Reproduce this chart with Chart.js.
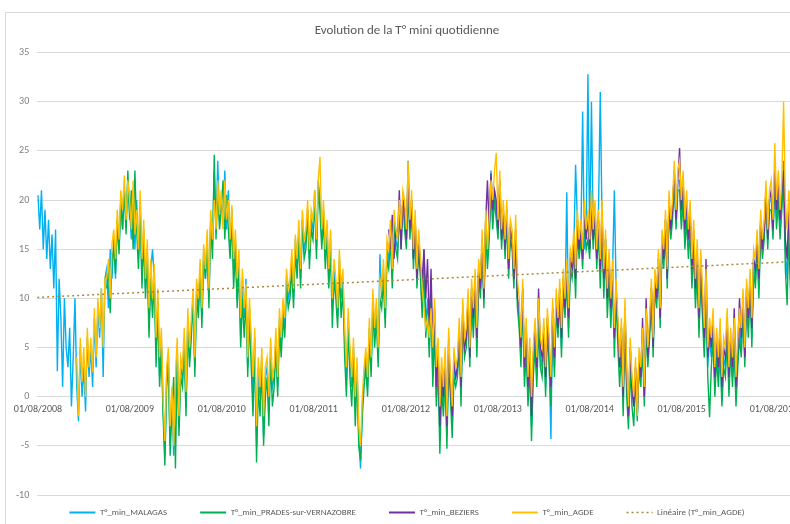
<!DOCTYPE html>
<html><head><meta charset="utf-8">
<script src="https://cdn.jsdelivr.net/npm/chart.js@4.4.1/dist/chart.umd.min.js"></script>
<style>
html,body{margin:0;padding:0;background:#fff;overflow:hidden;width:790px;height:524px;}
#frame{position:absolute;left:5px;top:12px;width:830px;height:540px;border:1px solid #d9d9d9;box-sizing:border-box;}
#c{position:absolute;left:0;top:0;}
</style></head><body>
<div id="frame"><canvas id="c" width="810" height="534"></canvas></div>
<script>
const TITLE = 'Evolution de la T° mini quotidienne';
const SERIES_NAMES = ['T°_min_MALAGAS','T°_min_PRADES-sur-VERNAZOBRE','T°_min_BEZIERS','T°_min_AGDE','Linéaire (T°_min_AGDE)'];
const TICK_LABELS = ['01/08/2008','01/08/2009','01/08/2010','01/08/2011','01/08/2012','01/08/2013','01/08/2014','01/08/2015','01/08/2016'];
const STEP_DAYS = 7;            // one reading per week, day 0 = 01/08/2008
const MALAGAS_START = 0, PRADES_START = 39, BEZIERS_START = 199, AGDE_START = 22; // week index of first reading

const malagas = [
20.5,17,21,15,19, 14,18,13,16.5, 11,17,2.6,12, 8,1,10,5,3, 7,-1,4,10, 1,-2.5,5,0, 3,-1.5,6,2, 5,1,8,3,9, 6,11,2,12, 13,9,15,12, 16,12,18,15,20, 17,21,18,22,
19,16,21,15,20, 14,20,12,17, 11,15,7,13, 15,12,5,10,2, 6,-1,-6,2, 4,-5,0,-6, 1,5,-3,3, 2,6,-1,8,4, 7,10,3,11, 9,13,8,15, 12,16,10,18,15, 23,17,24,18,
20,18,23,17,21, 15,19,13,16, 10,14,6,12, 8,12,3,9,5, 0,6,-5,3, 0,4,-4,2, 3,-1,5,1, 2,6,1,8,5, 9,7,12,10, 11,14,10,16, 13,17,12,18,15, 16,19,14,18,
17,21,15,22,20, 16,19,14,17, 12,16,9,13, 11,8,14,10,12, 6,2,8,4, 1,5,-1,3, -4,-7.3,-1,2, 4,1,7,3,10, 6,9,4,14.5, 10,13,8,15, 14,17,12,18,16, 15,19,16,20,
18,16,24,17,20, 14,18,12,16, 13,9,15,7, 10,5,11,2,8, 0,4,-4,2, -1,3,-4,5, 1,-3,3,2, 3,7,0,9,5, 6,10,4,11, 7,12,5,13, 11,16,10,18,14, 17,23,18,21,
19,17,22,16,19, 15,19,13,17, 16,12,17,10, 8,4,11,2,6, 0,4,-3,3, 6,2,8,4, 3,7,1,8, 4,-4.3,9,3,10, 7,11,5,12, 9,20.8,7,14, 14,15,23.6,18,15, 16,29,15,17,
32.8,16,30,17,19, 15,19,31,18, 12,16,10,14, 9,13,21,11,7, 3,7,0,9, 2,-2,5,1, -1,3,-2,4, 2,6,0,8,4, 7,11,5,12, 10,14,8,16, 14,18,12,20,17, 19,23,18,22,
22,18,21,16,19, 15,18,12,16, 10,14,7,13, 9,5,11,3,6, 4,7,1,5, 2,6,-0.4,4, 3,7,1,6, 2,6,0,4,7, 5,10,4,11, 7,12,6,14, 12,16,11,18,15, 17,21,16,20,
20,17,23,18,21, 17,20,24,15, 12,18,10,15, 9,12,7,10,8
];

const prades = [
11,13,8.5,14, 15,12.5,18,14.5,20, 17,21,16.5,23,
18,21,15,23,17, 13,19,11,16, 10,14,6,12, 8,12,3,9,1, 5,-2,-7,1, 3,-6,-1,2, -7.3,4,-4,2, 1,5,-2,7,3, 6,10,2,10, 8,13,7,14, 12,15,9,18,14, 24.6,16,21,17,
19,22,16,20.5,17, 14,18,11,15, 9,13,5,10, 6,10,2,8,3, -2,5,-6.7,1, -2,3,-5,0, 2,-3,4,-1, 1,5,0,7,4, 8,6,11,9, 10,13,9,15, 12,16,11,18,14, 15,19,13,17,
16,20,14,21,19, 15,18,13,16, 11,15,7,12, 10,7,13,8,11, 4,0,7,2, -1,4,-3,2, -5,-6.5,-2,1, 3,0,6,2,9, 5,8,3,10, 9,12,7,14, 13,16,11,18,15, 14,19,15,20,
17,15,21,16,19, 13,17,11,15, 12,8,14,6, 9,4,10,1,7, -1,3,-5.8,1, -2,2,-5.3,4, 0,-4.2,2,1, 2,6,-1,8,4, 5,9,3,10, 6,11,4,12, 10,15,9,17,13, 16,21,17,20,
18,16,21,15,18, 14,18,12,16, 15,11,16,9, 7,3,10,1,5, -1,3,-4.5,2, 5,1,7,3, 2,6,0,7, 3,-1,8,2,9, 6,10,4,11, 8,12,6,13, 12,15,10,17,14, 16,13,18,15,
16,14,19,15,18, 13,17,11,17, 10,15,8,12, 7,12,4,10,5, 1,5,-2,7, 0,-3.3,3,-1, -3,2,-2.5,3, 1,5,-1,7,3, 6,10,4,11, 9,13,7,15, 13,17,11,19,16, 18,22,17,21,
21,17,20,15,18, 14,17,11,15, 9,13,6,12, 8,4,10,2,-2.1, 3,6,0,4, 1,5,-1,3, 2,6,0,5, 1,5,-1,3,6, 4,9,3,10, 6,11,5,13, 11,15,10,17,14, 16,20,15,19,
19,16,22,17,20, 16,19,22,13, 9.3,17,11,14, 8,12,6,10,7
];

const beziers = [
17,15,18.5,14,17, 16,21,15,20,
19,16,22.5,17,20, 14,18,12,16, 13,12,15,10, 14,7,13,5,9, 1,5,-3,3, 0,4,-3,6, 1,-2,4,2, 3,7,1,9,5, 6,10,4,11, 8,12,6,13, 11,16,10,18,22, 17,22.7,19,21,
20,17,22,16,19, 15,19,13,17, 16,12,17,10, 9,5,11,3,7, 1,5,-2,4, 7,3,11,5, 4,7,2,8, 5,1,9,4,10, 7,11,6,12, 9,13,8,14, 13,16,12,18,15, 17,14,19,16,
18,15,20,16,19, 14,18,13,19, 12,16,10,14, 9,13,6,11,7, 3,7,0,9, 2,-2,5,1, -1,3,-1.5,4, 2,8,0,10,4, 7,11,5,12, 10,14,8,16, 14,18,12,20,17, 19,23,18,22,
25.3,19,22,17,20, 16,19,13,17, 11,15,8,14, 10,6,14,4,7, 5,8,2,6, 3,7,1,5, 4,8,2,6, 3,9,1,5,10, 6,10,4,11, 8,12,7,14, 13,16,12,18,15, 17,21,16,20,
21,17,23,19,22, 18,21,23,16, 14,19,12,16, 10,13,7,11,8
];

const agde = [
4,-2,6,1.5, 5,0,7,3, 6,2.5,9,4,10, 7,11,5,12, 12,14,10,15.5, 17,14,19,16,21, 19,22.5,18,22,
20,17,22,16.5,19, 15,21,14,18, 12,16,9,14, 10,13.5,6,11,4, 7,0,-4.5,3, 5,-3,1,-5, 2,6,-2,4, 3,7,0.5,9,5, 8,11,4,12, 10,14,9,15.5, 13,17,11,19,16, 20,17,22,18.5,
21,17,22,18,20, 16,19.5,14,17, 12,15,8,13, 9,11.5,4,10,6, 2,7,-3,4, 1,5,-2,3, 4,0,6,2, 3,7,2,9,6, 10,8,13,11, 12,15,11,16.5, 14,18,13,19,16, 17,20,15,19,
18,21,16,22,24.4, 17,20,15,18, 13,17,10,14, 12,9,15,11,13, 7,3,9,5, 2,6,0,4, -3,-5,0,3, 5,2,8,4,11, 7,10,5,12, 11,14,9,16, 15,18,13,19,17, 16,20,17,21,
20,17,23.9,18,21, 15,19,13,17, 14,11,9,7, 8,6,9,5,10, 3,6,-1,4, 1,5,-2,7, 2,-1,5,3, 4,8,2,10,6, 7,11,5,12, 9,13,7,14, 12,17,11,19,15, 18,22,20,23,
24.8,18,23,17,20, 16,20,14,18, 17,13,18.5,12, 10,6,12,4,8, 2,6,0,5, 8,4,10,6, 5,8,3,9, 6,2,10,5,11, 8,12,7,13, 10,14,9,15, 14,17,13,19,16, 18,15,20,17,
19,16,21,17,20, 15,19,14,20, 13,17,11,15, 10,14,7,12,8, 4,8,1,10, 3,-1,6,2, 0,4,-2,5, 3,7,1,9,5, 8,12,6,13, 11,15,9,17, 15,19,13,21,18, 20,24,19,23,
24,20,23,18,21, 17,20,14,18, 12,16,9,15, 11,7,13,5,8, 6,9,3,7, 4,8,2,6, 5,9,3,7, 4,8,2,6,9, 7,11,5,12, 9,13,8,15, 14,17,13,19,16, 18,22,17,21,
22,18,25.8,20,23, 19,22,30,20, 17,21,14,18, 12,15,9,13,10
];

// Linear trend of AGDE as drawn in the reference: [day, value] at both ends
const trendDays = [-3, 3050];
const trendValues = [10.1, 13.8];

const TICK_DAYS = TICK_LABELS.map((s, i) => Math.round((Date.UTC(2008 + i, 7, 1) - Date.UTC(2008, 7, 1)) / 86400000));
const pts = (startWeek, vals) => vals.map((v, i) => ({x: (startWeek + i) * STEP_DAYS, y: v}));

const FONT = 'Carlito, "Liberation Sans Narrow", "Liberation Sans", Arial, sans-serif';
Chart.defaults.font.family = FONT;

const LEGEND_CENTER_Y = 500;
const legendShift = {
  id: 'legendShift',
  afterLayout(chart) {
    const lg = chart.legend;
    if (!lg) return;
    const pad = lg.options.labels.padding;
    const cur = lg.top + pad + 5;
    const d = LEGEND_CENTER_Y - cur;
    lg.top += d; lg.bottom += d;
  }
};

const baseLabels = Chart.defaults.plugins.legend.labels.generateLabels;

new Chart(document.getElementById('c'), {
  type: 'line',
  data: {
    datasets: [
      {label: SERIES_NAMES[0], data: pts(MALAGAS_START, malagas), borderColor: '#00b0f0', backgroundColor: '#00b0f0', order: 4},
      {label: SERIES_NAMES[1], data: pts(PRADES_START, prades), borderColor: '#00b050', backgroundColor: '#00b050', order: 3},
      {label: SERIES_NAMES[2], data: pts(BEZIERS_START, beziers), borderColor: '#7030a0', backgroundColor: '#7030a0', order: 2},
      {label: SERIES_NAMES[3], data: pts(AGDE_START, agde), borderColor: '#ffc000', backgroundColor: '#ffc000', order: 1},
      {label: SERIES_NAMES[4], data: trendDays.map((d, i) => ({x: d, y: trendValues[i]})), borderColor: '#a88a3c', backgroundColor: '#a88a3c', borderDash: [2, 3], borderWidth: 1.5, order: 0}
    ]
  },
  options: {
    responsive: false,
    animation: false,
    layout: {padding: {left: 2, right: 10, top: 0, bottom: 0}},
    elements: {point: {radius: 0}, line: {borderWidth: 1.4, tension: 0}},
    plugins: {
      title: {display: true, text: TITLE, color: '#595959', font: {size: 13, weight: 'normal'}, padding: {top: 10, bottom: 14}},
      legend: {
        position: 'bottom',
        labels: {usePointStyle: true, pointStyle: 'line', pointStyleWidth: 26, padding: 33, color: '#595959', font: {size: 9},
          sort: (a, b) => a.datasetIndex - b.datasetIndex,
          generateLabels: chart => baseLabels(chart).map(item => {
            const ds = chart.data.datasets[item.datasetIndex];
            item.lineDash = ds.borderDash || [];
            item.lineWidth = ds.borderDash ? 1.5 : 2;
            item.strokeStyle = ds.borderColor;
            return item;
          })}
      },
      tooltip: {enabled: false}
    },
    scales: {
      x: {
        type: 'linear', min: -3, max: 3050, position: {y: 0},
        grid: {display: false, tickLength: 0}, border: {display: false},
        afterBuildTicks: s => { s.ticks = TICK_DAYS.map(v => ({value: v})); },
        afterFit: s => { s.paddingLeft = 0; s.paddingRight = 0; },
        ticks: {autoSkip: false, maxRotation: 0, color: '#595959', font: {size: 10}, padding: 7,
          callback: v => { const i = TICK_DAYS.indexOf(v); return i >= 0 ? TICK_LABELS[i] : ''; }}
      },
      y: {
        min: -10, max: 35,
        ticks: {stepSize: 5, color: '#7f7f7f', font: {size: 10}, padding: 8},
        grid: {color: '#d9d9d9', drawTicks: false}, border: {display: false}
      }
    }
  },
  plugins: [legendShift]
});
</script></body></html>
